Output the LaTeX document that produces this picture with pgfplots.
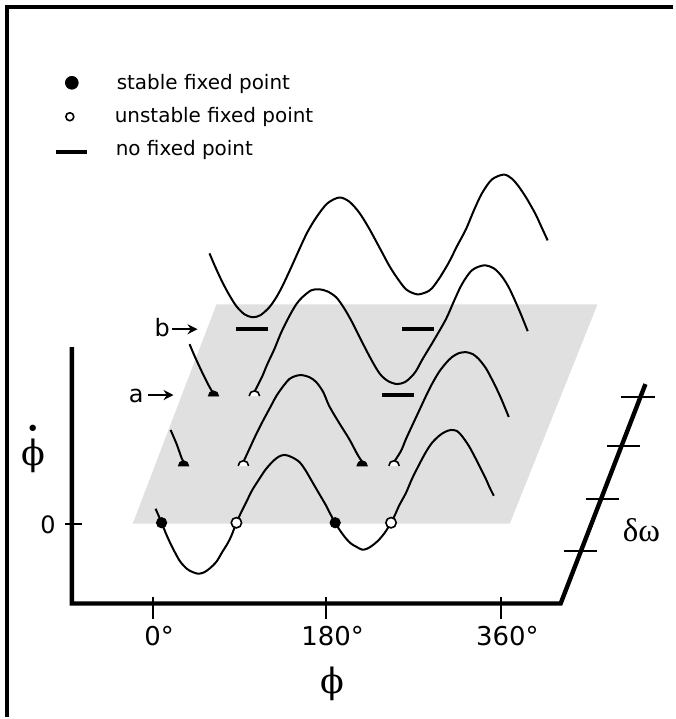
\documentclass[border=0pt]{standalone}
\usepackage{fontspec}
\setmainfont{DejaVu Sans}
\newfontfamily\greek{Liberation Serif}
\newfontfamily\phifont{DejaVu Serif}
\usepackage{pgfplots}
\pgfplotsset{compat=1.18}
\usetikzlibrary{arrows.meta}
\definecolor{Plane}{RGB}{224,224,224}

% upper half of a dot / ring, sitting on the zero line
\pgfdeclareplotmark{halfdot}{%
  \pgfpathmoveto{\pgfqpoint{\pgfplotmarksize}{0pt}}%
  \pgfpatharc{0}{180}{\pgfplotmarksize}%
  \pgfpathclose
  \pgfusepathqfillstroke}
\pgfdeclareplotmark{halfring}{%
  \pgfpathmoveto{\pgfqpoint{\pgfplotmarksize}{0pt}}%
  \pgfpatharc{0}{180}{\pgfplotmarksize}%
  \pgfusepathqfillstroke}

\pgfplotsset{
  curve/.style={black,line width=1pt,smooth,tension=0.5,no marks},
  bar/.style={black,line width=2pt,no marks},
}

\begin{document}
\begin{tikzpicture}
\begin{axis}[scale only axis,width=337.5pt,height=359.5pt,
  xmin=0,xmax=675,ymin=0,ymax=719,y dir=reverse,
  hide axis,clip=false]
\addplot[draw=none,no marks] coordinates {(0,0) (675,719)};
% frame
\addplot[black,line width=1.75pt,no marks] coordinates {(675,7) (7,7) (7,719)};

% plane
\addplot[fill=Plane,draw=none,no marks]
  coordinates {(133,525) (511,525) (599,305) (217,305) (133,525)};

% delta omega = top row
\addplot[curve] coordinates {
  (210,254) (216,268) (223,283) (230,296) (237,307) (245,315) (253,318)
  (261,316) (270,308) (277,298) (283,287) (291,270) (300,250) (308,233)
  (317,218) (328,204) (340,198) (350,202) (360,213) (370,229) (383,253)
  (390,266) (397,277) (407,290) (418,295) (427,293) (433,289) (441,278)
  (450,263) (458,247) (467,230) (475,211) (483,194) (493,180) (505,175)
  (513,179) (520,187) (528,199) (537,215) (543,228) (549,241)};

% row b
\addplot[curve] coordinates {
  (190,345) (196,359) (203,374) (209,386) (213,393)};
\addplot[curve] coordinates {
  (255,393) (258,387) (263,377) (268,365) (275,350) (282,333) (290,317)
  (297,305) (303,298) (312,291) (320,290) (328,292) (337,298) (345,309)
  (353,323) (362,341) (373,362) (381,375) (389,382) (398,385) (406,383)
  (412,378) (417,372) (423,361) (429,351) (435,341) (447,320) (455,302)
  (463,285) (473,271) (485,266) (495,269) (503,277) (510,288) (517,303)
  (523,317) (529,332)};

% row a
\addplot[curve] coordinates {
  (171,431) (177,445) (182,459) (184,463)};
\addplot[curve] coordinates {
  (244,463) (250,450) (256,437) (263,423) (270,410) (277,397) (284,387)
  (290,380) (296,377) (302,376) (310,378) (317,383) (324,393) (330,407)
  (340,424) (350,440) (358,455) (363,463)};
\addplot[curve] coordinates {
  (395,463) (402,452) (407,440) (413,427) (420,412) (427,397) (433,385)
  (440,373) (447,364) (453,358) (460,354) (467,353) (474,355) (480,360)
  (487,369) (493,380) (498,390) (503,401) (510,418)};

% delta omega = 0
\addplot[curve] coordinates {
  (156,510) (162,524) (166,534) (170,543) (175,553) (180,562) (185,568)
  (190,572) (198,575) (204,574) (210,570) (217,563) (223,553) (228,545)
  (232,537) (237,524) (242,513) (247,503) (253,491) (260,480) (266,471)
  (273,463) (279,458) (285,456) (292,458) (300,463) (306,471) (313,483)
  (320,495) (327,507) (331,515) (336,524) (341,532) (347,540) (352,545)
  (357,548) (363,551) (368,550) (373,547) (379,542) (385,535) (389,529)
  (392,524) (396,516) (400,507) (407,494) (413,480) (420,466) (427,453)
  (433,444) (440,437) (446,433) (452,431) (458,432) (463,437) (470,447)
  (477,460) (482,470) (487,480) (491,489) (495,497)};

% no fixed point
\addplot[bar] coordinates {(237,330) (269,330)};
\addplot[bar] coordinates {(403,330) (435,330)};
\addplot[bar] coordinates {(383,396) (415,396)};

% fixed points
\addplot[only marks,mark=*,mark size=2.6pt,mark options={fill=black,draw=black}]
  coordinates {(162,524) (336,524)};
\addplot[only marks,mark=*,mark size=2.6pt,
  mark options={fill=white,draw=black,line width=0.8pt}]
  coordinates {(237,524) (392,524)};
\addplot[only marks,mark=halfdot,mark size=2.6pt,mark options={fill=black,draw=black}]
  coordinates {(184,467) (363,467) (214,397)};
\addplot[only marks,mark=halfring,mark size=2.6pt,
  mark options={fill=white,draw=black,line width=0.8pt}]
  coordinates {(244,467) (395,467) (255,397)};

% arrows a, b
\addplot[black,line width=1pt,no marks,-{Stealth[length=5pt,width=5pt]}]
  coordinates {(148,396) (174,396)};
\addplot[black,line width=1pt,no marks,-{Stealth[length=5pt,width=5pt]}]
  coordinates {(172,330) (198,330)};
\node[font=\fontsize{12}{14}\selectfont,anchor=base] at (axis cs:136.5,403) {a};
\node[font=\fontsize{12}{14}\selectfont,anchor=base] at (axis cs:162.5,337) {b};

% axes
\addplot[black,line width=2.2pt,no marks,line join=miter]
  coordinates {(72,348) (72,605) (562,605) (647,385)};
\addplot[black,line width=1pt,no marks] coordinates {(65,525) (82,525)};
\addplot[black,line width=1pt,no marks] coordinates {(153,598) (153,621)};
\addplot[black,line width=1pt,no marks] coordinates {(327,598) (327,621)};
\addplot[black,line width=1pt,no marks] coordinates {(502,598) (502,621)};
\addplot[black,line width=1pt,no marks] coordinates {(565,552) (598,552)};
\addplot[black,line width=1pt,no marks] coordinates {(587,500) (620,500)};
\addplot[black,line width=1pt,no marks] coordinates {(608,447) (642,447)};
\addplot[black,line width=1pt,no marks] coordinates {(623,398) (657,398)};

\node[font=\fontsize{12}{14}\selectfont] at (axis cs:48,526) {0};
\node[font=\fontsize{13}{15}\selectfont,anchor=base] at (axis cs:153,647) {0\rlap{°}};
\node[font=\fontsize{13}{15}\selectfont,anchor=base] at (axis cs:327,647) {180\rlap{°}};
\node[font=\fontsize{13}{15}\selectfont,anchor=base] at (axis cs:502,647) {360\rlap{°}};
\node[font=\phifont\fontsize{17.5}{20}\selectfont,inner sep=0pt] at (axis cs:333,686) {ϕ};
\node[font=\phifont\fontsize{17.5}{20}\selectfont,inner sep=0pt,anchor=base]
  at (axis cs:33,467) {\ooalign{ϕ\cr\hidewidth\raisebox{14.5pt}{\fontsize{11}{11}\selectfont•}\hidewidth\cr}};
\node[font=\greek\fontsize{16.5}{19}\selectfont] at (axis cs:643,531) {δω};

% legend
\addplot[only marks,mark=*,mark size=3.2pt,mark options={fill=black,draw=black}]
  coordinates {(72,83)};
\addplot[only marks,mark=*,mark size=2pt,
  mark options={fill=white,draw=black,line width=0.8pt}]
  coordinates {(70,117)};
\addplot[bar] coordinates {(56,152) (87,152)};
\node[font=\fontsize{10}{12}\selectfont,anchor=base west] at (axis cs:110,90) {stable fixed point};
\node[font=\fontsize{10}{12}\selectfont,anchor=base west] at (axis cs:108,123) {unstable fixed point};
\node[font=\fontsize{10}{12}\selectfont,anchor=base west] at (axis cs:109,156) {no fixed point};
\end{axis}
\end{tikzpicture}
\end{document}
